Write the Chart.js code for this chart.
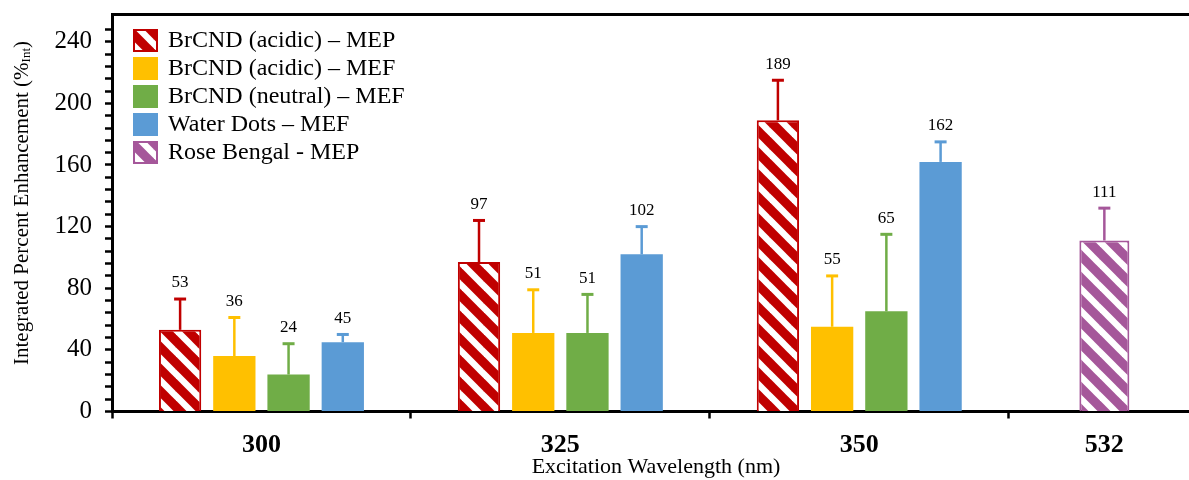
<!DOCTYPE html>
<html>
<head>
<meta charset="utf-8">
<title>Integrated Percent Enhancement</title>
<script src="https://cdn.jsdelivr.net/npm/chart.js@4.4.1/dist/chart.umd.min.js"></script>
<style>
  html, body { margin: 0; padding: 0; background: #fff; overflow: hidden; }
  #wrap { width: 1189px; height: 480px; overflow: hidden; }
</style>
</head>
<body>
<div id="wrap"><canvas id="chart-enh" width="1200" height="480"></canvas></div>
<script>
// excitation wavelengths (nm)
const wavelengths = ['300', '325', '350', '532'];
const seriesNames = [
  'BrCND (acidic) – MEP',
  'BrCND (acidic) – MEF',
  'BrCND (neutral) – MEF',
  'Water Dots – MEF',
  'Rose Bengal - MEP'
];

// integrated percent enhancement
const acidicMEP  = [53, 97, 189, null];
const acidicMEF  = [36, 51, 55, null];
const neutralMEF = [24, 51, 65, null];
const waterMEF   = [45, 102, 162, null];
const roseMEP    = [null, null, null, 111];

// upper error bars
const acidicMEPErr  = [20, 27, 26, null];
const acidicMEFErr  = [25, 28, 33, null];
const neutralMEFErr = [20, 25, 50, null];
const waterMEFErr   = [5, 18, 13, null];
const roseMEPErr    = [null, null, null, 21];

const yMajor = [0, 40, 80, 120, 160, 200, 240];

// category boundaries along the x axis (last group is cut short)
const catEdges = [0, 1, 2, 3, 3.64];
const catCenters = wavelengths.map((w, i) => (catEdges[i] + catEdges[i + 1]) / 2);

const serif = '"Liberation Serif", "Times New Roman", serif';
const colors = ['#C00000', '#FFC000', '#70AD47', '#5B9BD5', '#A5579A'];

// white downward-diagonal stripes on a solid colour
function hatch(color) {
  const c = document.createElement('canvas');
  c.width = 22; c.height = 22;
  const g = c.getContext('2d');
  g.fillStyle = color;
  g.fillRect(0, 0, 22, 22);
  g.strokeStyle = '#fff';
  g.lineWidth = 6.5;
  [-22, 0, 22].forEach(function(off) {
    g.beginPath();
    g.moveTo(off - 3, -3);
    g.lineTo(off + 25, 25);
    g.stroke();
  });
  return g.createPattern(c, 'repeat');
}

const toPoints = vals => vals.map((v, i) => ({ x: catCenters[i], y: v }));
const edgeWidth = w => ctx => (ctx.raw && ctx.raw.y != null ? w : 0);

const datasets = [
  { label: seriesNames[0], data: toPoints(acidicMEP), err: acidicMEPErr, lineColor: colors[0],
    backgroundColor: hatch(colors[0]), borderColor: colors[0], borderWidth: edgeWidth(2) },
  { label: seriesNames[1], data: toPoints(acidicMEF), err: acidicMEFErr, lineColor: colors[1],
    backgroundColor: colors[1], borderWidth: 0 },
  { label: seriesNames[2], data: toPoints(neutralMEF), err: neutralMEFErr, lineColor: colors[2],
    backgroundColor: colors[2], borderWidth: 0 },
  { label: seriesNames[3], data: toPoints(waterMEF), err: waterMEFErr, lineColor: colors[3],
    backgroundColor: colors[3], borderWidth: 0 },
  { label: seriesNames[4], data: toPoints(roseMEP), err: roseMEPErr, lineColor: colors[4],
    backgroundColor: hatch(colors[4]), borderColor: colors[4], borderWidth: edgeWidth(2),
    maxBarThickness: 50 }
];

// upper error bars + value labels above them
const errorBars = {
  id: 'errorBars',
  afterDatasetsDraw(chart) {
    const ctx = chart.ctx;
    const y = chart.scales.y;
    chart.data.datasets.forEach(function(ds, di) {
      const meta = chart.getDatasetMeta(di);
      meta.data.forEach(function(bar, i) {
        const v = ds.data[i].y;
        if (v == null) return;
        const top = y.getPixelForValue(v + (ds.err[i] || 0));
        ctx.save();
        ctx.strokeStyle = ds.lineColor;
        ctx.lineWidth = 2.5;
        ctx.beginPath();
        ctx.moveTo(bar.x, bar.y);
        ctx.lineTo(bar.x, top);
        ctx.stroke();
        ctx.lineWidth = 3;
        ctx.beginPath();
        ctx.moveTo(bar.x - 6, top);
        ctx.lineTo(bar.x + 6, top);
        ctx.stroke();
        ctx.fillStyle = '#000';
        ctx.font = '17px ' + serif;
        ctx.textAlign = 'center';
        ctx.textBaseline = 'middle';
        ctx.fillText(String(v), bar.x, top - 16);
        ctx.restore();
      });
    });
  }
};

// legend inside the plot, top left
const boxLegend = {
  id: 'boxLegend',
  afterDraw(chart) {
    const ctx = chart.ctx;
    const area = chart.chartArea;
    const x0 = area.left + 21, y0 = area.top + 15;
    chart.data.datasets.forEach(function(ds, i) {
      const y = y0 + i * 28;
      ctx.save();
      ctx.fillStyle = ds.backgroundColor;
      ctx.fillRect(x0, y, 25, 23);
      if (ds.borderColor) {
        ctx.strokeStyle = ds.borderColor;
        ctx.lineWidth = 2;
        ctx.strokeRect(x0 + 1, y + 1, 23, 21);
      }
      ctx.fillStyle = '#000';
      ctx.font = '24px ' + serif;
      ctx.textBaseline = 'middle';
      ctx.fillText(ds.label, x0 + 35, y + 12);
      ctx.restore();
    });
  }
};

// rotated y title with subscript
const yTitle = {
  id: 'yTitle',
  afterDraw(chart) {
    const ctx = chart.ctx;
    const main = 'Integrated Percent Enhancement (%', sub = 'Int', tail = ')';
    ctx.save();
    ctx.font = '21px ' + serif;
    const w1 = ctx.measureText(main).width, w3 = ctx.measureText(tail).width;
    ctx.font = '13px ' + serif;
    const w2 = ctx.measureText(sub).width;
    ctx.translate(22, 203);
    ctx.rotate(-Math.PI / 2);
    ctx.fillStyle = '#000';
    ctx.textBaseline = 'middle';
    let x = -(w1 + w2 + w3) / 2;
    ctx.font = '21px ' + serif;
    ctx.fillText(main, x, 0);
    x += w1;
    ctx.font = '13px ' + serif;
    ctx.fillText(sub, x, 5);
    x += w2;
    ctx.font = '21px ' + serif;
    ctx.fillText(tail, x, 0);
    ctx.restore();
  }
};

const noPad = s => { s.paddingLeft = 0; s.paddingRight = 0; s.paddingTop = 0; s.paddingBottom = 0; };

const enhChart = new Chart(document.getElementById('chart-enh'), {
  type: 'bar',
  data: { datasets: datasets },
  plugins: [errorBars, boxLegend, yTitle],
  options: {
    responsive: false,
    animation: false,
    layout: { padding: 0 },
    datasets: {
      bar: {
        categoryPercentage: 0.885,
        barPercentage: 0.78,
        skipNull: true
      }
    },
    plugins: {
      legend: { display: false },
      tooltip: { enabled: false }
    },
    scales: {
      x: {
        type: 'linear',
        position: 'bottom',
        offset: false,
        min: 0,
        max: catEdges[4],
        weight: 0,
        afterBuildTicks: s => { s.ticks = catEdges.slice(0, 4).map(v => ({ value: v })); },
        ticks: { display: false },
        grid: { offset: false, drawOnChartArea: false, drawTicks: true, tickLength: 7, tickWidth: 2.5, tickColor: '#000' },
        border: { display: true, color: '#000', width: 3 },
        afterFit: s => { noPad(s); s.height = 8; }
      },
      xLab: {
        type: 'linear',
        position: 'bottom',
        offset: false,
        min: 0,
        max: catEdges[4],
        weight: 1,
        afterBuildTicks: s => { s.ticks = catCenters.map(v => ({ value: v })); },
        ticks: {
          color: '#000',
          font: { family: serif, size: 26, weight: 'bold' },
          padding: 10,
          maxRotation: 0,
          autoSkip: false,
          callback: (v, i) => wavelengths[i]
        },
        grid: { offset: false, display: false, drawTicks: false },
        border: { display: false },
        title: {
          display: true,
          text: 'Excitation Wavelength (nm)',
          color: '#000',
          font: { family: serif, size: 22 },
          padding: { top: 0, bottom: 0 }
        },
        afterFit: s => { noPad(s); s.height = 60.5; }
      },
      top: {
        type: 'linear',
        position: 'top',
        offset: false,
        min: 0,
        max: 1,
        ticks: { display: false },
        grid: { offset: false, display: false, drawTicks: false },
        border: { display: true, color: '#000', width: 3 },
        afterFit: s => { noPad(s); s.height = 14; }
      },
      y: {
        min: 0,
        max: 258,
        afterBuildTicks: s => { s.ticks = s.ticks.filter(t => t.value % 8 === 0); },
        ticks: {
          stepSize: 8,
          autoSkip: false,
          color: '#000',
          padding: 13,
          font: { family: serif, size: 25 },
          callback: v => (yMajor.includes(v) ? String(v) : '')
        },
        grid: { drawOnChartArea: false, tickLength: 7, tickWidth: 2.5, tickColor: '#000' },
        border: { color: '#000', width: 3 },
        afterFit: s => { noPad(s); s.width = 112; }
      }
    }
  }
});
</script>
</body>
</html>
